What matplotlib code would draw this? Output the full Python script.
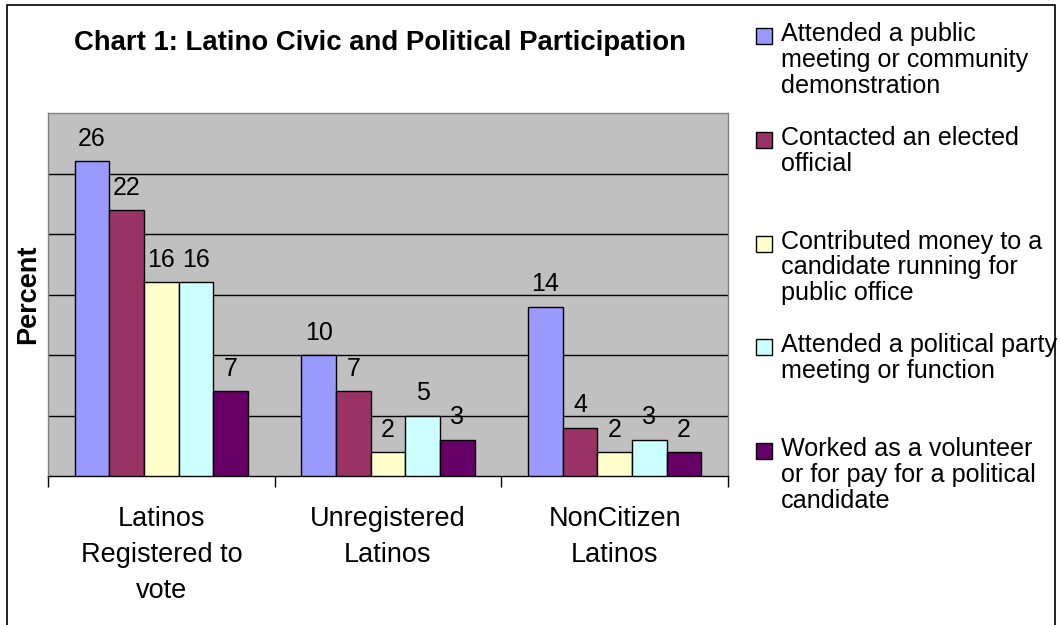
import numpy as np
import matplotlib
matplotlib.use("Agg")
import matplotlib.pyplot as plt
from matplotlib.patches import Rectangle

plt.rcParams["font.family"] = ["Liberation Sans", "DejaVu Sans"]

# ---------- data ----------
groups = ["Latinos\nRegistered to\nvote", "Unregistered\nLatinos", "NonCitizen\nLatinos"]
series = [
    "Attended a public\nmeeting or community\ndemonstration",
    "Contacted an elected\nofficial",
    "Contributed money to a\ncandidate running for\npublic office",
    "Attended a political party\nmeeting or function",
    "Worked as a volunteer\nor for pay for a political\ncandidate",
]
public_meeting = [26, 10, 14]
contacted_official = [22, 7, 4]
contributed_money = [16, 2, 2]
party_meeting = [16, 5, 3]
volunteer = [7, 3, 2]
values = [public_meeting, contacted_official, contributed_money, party_meeting, volunteer]
colors = ["#9999FF", "#993366", "#FFFFCC", "#CCFFFF", "#660066"]

W, H = 1059, 625
fig = plt.figure(figsize=(W / 100, H / 100), dpi=100)
fig.patch.set_facecolor("white")

# outer chart border (bottom edge is cut off in the original)
fig.patches.append(Rectangle((7 / W, -0.05), (1055 - 7) / W, 1.05 - 5 / H,
                             transform=fig.transFigure, fill=False,
                             edgecolor="black", lw=1.2))

ax = fig.add_axes([48 / W, 1 - 476 / H, 680 / W, 363 / H])
ax.set_facecolor("#C0C0C0")

x = np.arange(len(groups))
w = 0.1527
for i, (vals, col) in enumerate(zip(values, colors)):
    pos = x + (i - 2) * w
    ax.bar(pos, vals, width=w, color=col, edgecolor="black", lw=1.0, zorder=3)
    for px, v in zip(pos, vals):
        ax.annotate(str(v), (px, v), xytext=(0, 11), textcoords="offset points",
                    ha="center", va="baseline", fontsize=18, zorder=4)

ax.set_xlim(-0.5, 2.5)
ax.set_ylim(0, 30)
ax.set_yticks([5, 10, 15, 20, 25])
ax.yaxis.grid(True, color="black", lw=1.0)
ax.set_axisbelow(True)
ax.tick_params(axis="y", length=0, labelleft=False)

ax.set_xticks(x)
ax.set_xticklabels(groups, fontsize=19.5, linespacing=1.5)
ax.tick_params(axis="x", which="major", length=0, pad=21.5)
ax.set_xticks([-0.5, 0.5, 1.5, 2.5], minor=True)
ax.tick_params(axis="x", which="minor", length=8, width=1.0, color="black", direction="out")

for s in ["top", "right", "left"]:
    ax.spines[s].set_color("#808080")
    ax.spines[s].set_linewidth(1.0)
ax.spines["bottom"].set_color("black")
ax.spines["bottom"].set_linewidth(1.0)

ax.set_ylabel("Percent", fontsize=19.5, fontweight="bold")
ax.yaxis.set_label_coords(-0.0103, 0.5)

fig.text(380 / W, 1 - 50 / H, "Chart 1: Latino Civic and Political Participation",
         ha="center", va="baseline", fontsize=19.8, fontweight="bold")

# legend built by hand so entries are evenly spaced like the original
for k, (lab, col) in enumerate(zip(series, colors)):
    top = 22 + k * 103.75
    fig.patches.append(Rectangle((756 / W, 1 - (top + 22) / H), 16 / W, 16 / H,
                                 transform=fig.transFigure, facecolor=col,
                                 edgecolor="black", lw=1.0))
    fig.text(781 / W, 1 - top / H, lab, ha="left", va="top",
             fontsize=18.1, linespacing=1.1)

fig.savefig("out.png", dpi=100)
